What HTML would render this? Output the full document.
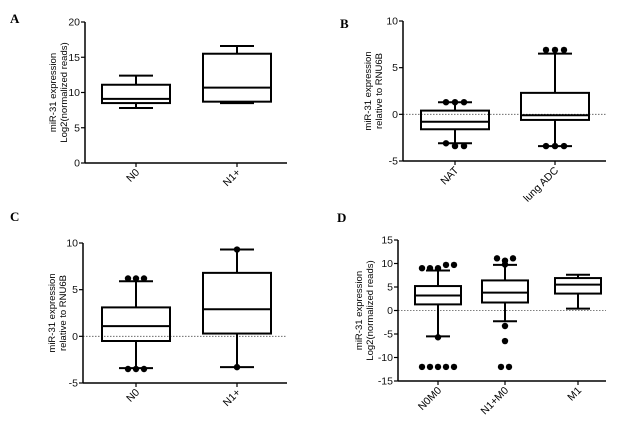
<!DOCTYPE html>
<html><head><meta charset="utf-8"><style>
body{margin:0;background:#fff;}
svg{display:block;font-family:"Liberation Sans",Arial,sans-serif;}
</style></head><body>
<svg id="fig" width="627" height="431"></svg>
<script>
const panelLabels=["A","B","C","D"];
const catsA=["N0","N1+"];
const statsA=[[7.8,8.5,9.1,11.1,12.4],[8.5,8.7,10.7,15.5,16.6]];
const outA=[[],[]];
const ticksA=[0,5,10,15,20];
const catsB=["NAT","lung ADC"];
const statsB=[[-3.1,-1.6,-0.8,0.4,1.3],[-3.4,-0.6,-0.1,2.3,6.5]];
const outB=[[1.3,1.3,1.3,-3.1,-3.4,-3.4],[6.9,6.9,6.9,-3.4,-3.4,-3.4]];
const ticksB=[-5,0,5,10];
const catsC=["N0","N1+"];
const statsC=[[-3.4,-0.5,1.1,3.1,5.9],[-3.3,0.3,2.9,6.8,9.3]];
const outC=[[6.2,6.2,6.2,-3.5,-3.5,-3.5],[9.3,-3.3]];
const ticksC=[-5,0,5,10];
const catsD=["N0M0","N1+M0","M1"];
const statsD=[[-5.5,1.3,3.2,5.2,8.5],[-2.3,1.7,3.8,6.4,9.7],[0.4,3.6,5.5,6.9,7.6]];
const outD=[[9,9,9,9.7,9.7,-5.7,-12,-12,-12,-12,-12],[11.1,10.6,9.8,11.1,-3.3,-6.5,-12,-12],[]];
const ticksD=[-15,-10,-5,0,5,10,15];

const NS="http://www.w3.org/2000/svg";
const svg=document.getElementById('fig');
function el(t,a,p){const e=document.createElementNS(NS,t);for(const k in a)e.setAttribute(k,a[k]);(p||svg).appendChild(e);return e;}

function panel(cfg){
  const g=el('g',{});
  
  
  const y=v=>cfg.y0+(v-cfg.min)/(cfg.max-cfg.min)*(cfg.y1-cfg.y0);
  const lab=el('text',{x:cfg.lx,y:cfg.ly,'font-family':'Liberation Serif,serif','font-weight':'bold','font-size':13},g);
  lab.textContent=cfg.label;
  
  
  if(cfg.zero){const z=el('line',{x1:cfg.ax,x2:cfg.xe,y1:y(0),y2:y(0),stroke:'#555','stroke-width':0.8,'stroke-dasharray':'1.5,1.5'},g);
    }
  const ya=el('line',{x1:cfg.ax,x2:cfg.ax,y1:y(cfg.max),y2:y(cfg.min),stroke:'#000','stroke-width':1.5},g);
  
  const xa=el('line',{x1:cfg.ax,x2:cfg.xe,y1:y(cfg.min),y2:y(cfg.min),stroke:'#000','stroke-width':1.5},g);
  
  cfg.ticks.forEach(t=>{
    el('line',{x1:cfg.ax-4,x2:cfg.ax,y1:y(t),y2:y(t),stroke:'#000','stroke-width':1.2},g);
    const tx=el('text',{x:cfg.ax-5,y:y(t)+3.5,'text-anchor':'end','font-size':10.5,fill:'#111'},g);
    tx.textContent=t;
    
  });
  const tl=el('text',{transform:`translate(${cfg.tx},${(y(cfg.max)+y(cfg.min))/2}) rotate(-90)`,'text-anchor':'middle','font-size':9.5},g);
  cfg.title.forEach((s,i)=>{const ts=el('tspan',{x:0,dy:i?11:0},tl);ts.textContent=s;});
  
  cfg.cats.forEach((c,i)=>{
    const cx=cfg.cx[i], s=cfg.stats[i], hw=cfg.hw, cw=cfg.cw;
    const b=el('g',{},g);
    
    
    const st={stroke:'#000','stroke-width':2,fill:'none'};
    el('line',Object.assign({x1:cx,x2:cx,y1:y(s[0]),y2:y(s[1])},st),b);
    el('line',Object.assign({x1:cx,x2:cx,y1:y(s[3]),y2:y(s[4])},st),b);
    el('line',Object.assign({x1:cx-cw,x2:cx+cw,y1:y(s[0]),y2:y(s[0])},st),b);
    el('line',Object.assign({x1:cx-cw,x2:cx+cw,y1:y(s[4]),y2:y(s[4])},st),b);
    el('rect',Object.assign({x:cx-hw,y:y(s[3]),width:2*hw,height:y(s[1])-y(s[3])},st),b);
    el('line',Object.assign({x1:cx-hw,x2:cx+hw,y1:y(s[2]),y2:y(s[2])},st),b);
    const o=cfg.out[i]; const groups=[];
    o.forEach(v=>{let gr=groups.find(q=>Math.abs(q.v-v)<1.2);if(!gr){gr={v:v,items:[]};groups.push(gr);}gr.items.push(v);});
    groups.forEach(gr=>{const n=gr.items.length;gr.items.forEach((v,k)=>{
      const d=el('circle',{cx:cx+(k-(n-1)/2)*cfg.sp,cy:y(v),r:3.2,fill:'#000'},b);
      });});
    el('line',{x1:cx,x2:cx,y1:y(cfg.min),y2:y(cfg.min)+4,stroke:'#000','stroke-width':1.2},g);
    const xl=el('text',{transform:`translate(${cx+4},${y(cfg.min)+10}) rotate(-45)`,'text-anchor':'end','font-size':10.5},g);
    xl.textContent=c;
    
  });
}
panel({label:panelLabels[0],lx:10,ly:23,ax:85,xe:287,y0:163,y1:22,min:0,max:20,ticks:ticksA,cats:catsA,stats:statsA,out:outA,cx:[136,237],hw:34,cw:17,sp:8,tx:56,title:["miR-31 expression","Log2(normalized reads)"],zero:false});
panel({label:panelLabels[1],lx:340,ly:28,ax:403,xe:606,y0:161,y1:21,min:-5,max:10,ticks:ticksB,cats:catsB,stats:statsB,out:outB,cx:[455,555],hw:34,cw:17,sp:9,tx:371,title:["miR-31 expression","relative to RNU6B"],zero:true});
panel({label:panelLabels[2],lx:10,ly:221,ax:83,xe:287,y0:383,y1:243,min:-5,max:10,ticks:ticksC,cats:catsC,stats:statsC,out:outC,cx:[136,237],hw:34,cw:17,sp:8,tx:55,title:["miR-31 expression","relative to RNU6B"],zero:true});
panel({label:panelLabels[3],lx:337,ly:222,ax:398,xe:606,y0:381,y1:240,min:-15,max:15,ticks:ticksD,cats:catsD,stats:statsD,out:outD,cx:[438,505,578],hw:23,cw:12,sp:8,tx:362,title:["miR-31 expression","Log2(normalized reads)"],zero:true});
</script>
</body></html>
